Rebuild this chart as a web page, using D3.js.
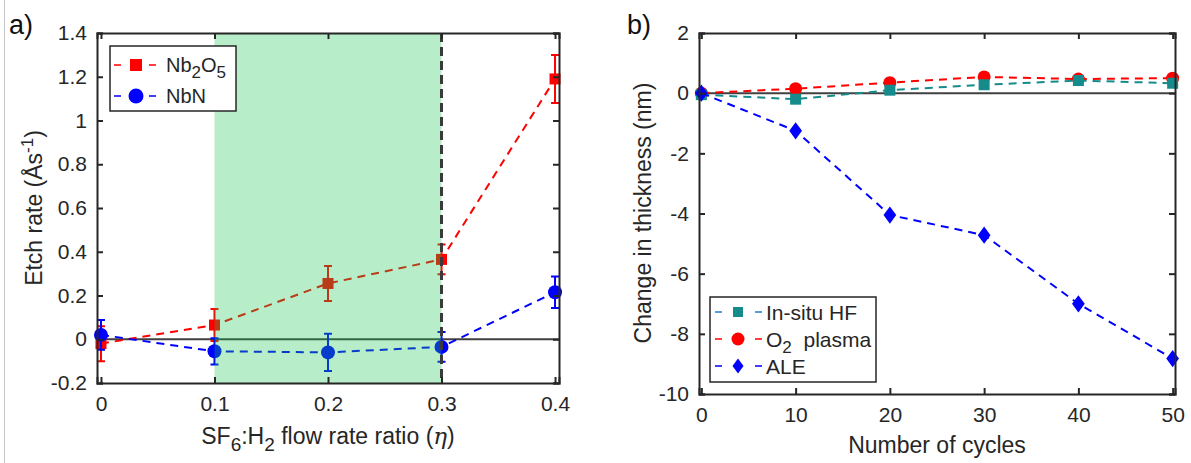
<!DOCTYPE html>
<html>
<head>
<meta charset="utf-8">
<script src="https://cdn.jsdelivr.net/npm/d3@7"></script>
<style>
  html, body { margin: 0; padding: 0; background: #fff; }
  svg { display: block; font-family: "Liberation Sans", Arial, sans-serif; }
</style>
</head>
<body>
<svg id="fig" width="1191" height="463"></svg>
<script>
// ---- Panel a: etch rate vs SF6:H2 flow rate ratio ----
const etaValues = [0, 0.1, 0.2, 0.3, 0.4];
const nb2o5Rate = [-0.02, 0.065, 0.255, 0.365, 1.19];
const nb2o5Err  = [0.08, 0.073, 0.08, 0.068, 0.11];
const nbnRate   = [0.02, -0.055, -0.06, -0.035, 0.215];
const nbnErr    = [0.068, 0.06, 0.085, 0.068, 0.072];
const windowRange = [0.1, 0.3];
const aXTicks = [0, 0.1, 0.2, 0.3, 0.4];
const aYTicks = [-0.2, 0, 0.2, 0.4, 0.6, 0.8, 1, 1.2, 1.4];

// ---- Panel b: thickness change vs number of cycles ----
const cycles     = [0, 10, 20, 30, 40, 50];
const insituHF   = [-0.05, -0.2, 0.1, 0.28, 0.42, 0.33];
const o2Plasma   = [0, 0.15, 0.35, 0.54, 0.47, 0.5];
const aleChange  = [0, -1.25, -4.05, -4.72, -7.0, -8.82];
const bXTicks = [0, 10, 20, 30, 40, 50];
const bYTicks = [-10, -8, -6, -4, -2, 0, 2];

const RED = "#ff0000", BLUE = "#0000ff", TEAL = "#168b8b", HFLEG = "#1f7fd0";
const AX = "#262626";
const svg = d3.select("#fig");

// thin frame line at the left edge
svg.append("line").attr("x1", 4.5).attr("x2", 4.5).attr("y1", 0).attr("y2", 463)
  .attr("stroke", "#c8c8c8").attr("stroke-width", 1);

const fmt = d => d === 0 ? "0" : String(+d.toFixed(1));

function frame(g, x, y, xt, yt) {
  const [x0, x1] = x.range(), [y0, y1] = y.range();
  const bottom = g.append("g").attr("transform", `translate(0,${y0})`)
    .call(d3.axisBottom(x).tickValues(xt).tickFormat(fmt).tickSize(-6).tickPadding(13));
  const left = g.append("g").attr("transform", `translate(${x0},0)`)
    .call(d3.axisLeft(y).tickValues(yt).tickFormat(fmt).tickSize(-6).tickPadding(10));
  const top = g.append("g").attr("transform", `translate(0,${y1})`)
    .call(d3.axisTop(x).tickValues(xt).tickFormat("").tickSize(-6));
  const right = g.append("g").attr("transform", `translate(${x1},0)`)
    .call(d3.axisRight(y).tickValues(yt).tickFormat("").tickSize(-6));
  [bottom, left, top, right].forEach(a => {
    a.selectAll("path").attr("stroke", AX).attr("stroke-width", 2);
    a.selectAll("line").attr("stroke", AX).attr("stroke-width", 2);
    a.selectAll("text").attr("fill", "#262626").style("font-size", "21px")
      .style("font-family", "Liberation Sans, Arial, sans-serif");
  });
}

function marker(g, type, cx, cy, size, color) {
  if (type === "square") {
    g.append("rect").attr("x", cx - size / 2).attr("y", cy - size / 2)
      .attr("width", size).attr("height", size).attr("fill", color);
  } else if (type === "circle") {
    g.append("circle").attr("cx", cx).attr("cy", cy).attr("r", size / 2).attr("fill", color);
  } else {
    const s = size / 2;
    g.append("path").attr("d", `M${cx},${cy - s * 1.15}L${cx + s * 0.85},${cy}L${cx},${cy + s * 1.15}L${cx - s * 0.85},${cy}Z`)
      .attr("fill", color);
  }
}

// ================= Panel a =================
{
  const x = d3.scaleLinear().domain([-0.0035, 0.4035]).range([97, 559]);
  const y = d3.scaleLinear().domain([-0.2, 1.4]).range([383, 33]);
  const g = svg.append("g");

  // zero line
  g.append("line").attr("x1", x.range()[0]).attr("x2", x.range()[1])
    .attr("y1", y(0)).attr("y2", y(0)).attr("stroke", "#404040").attr("stroke-width", 2);

  function series(vals, errs, color, type, size) {
    const pts = etaValues.map((e, i) => [x(e), y(vals[i])]);
    g.append("path").attr("d", d3.line()(pts)).attr("fill", "none")
      .attr("stroke", color).attr("stroke-width", 2).attr("stroke-dasharray", "8,6");
    etaValues.forEach((e, i) => {
      const cx = x(e), t = y(vals[i] + errs[i]), b = y(vals[i] - errs[i]);
      g.append("path").attr("d", `M${cx},${t}V${b}M${cx - 4},${t}H${cx + 4}M${cx - 4},${b}H${cx + 4}`)
        .attr("stroke", color).attr("stroke-width", 2).attr("fill", "none");
      marker(g, type, cx, y(vals[i]), size, color);
    });
  }
  series(nb2o5Rate, nb2o5Err, RED, "square", 11);
  series(nbnRate, nbnErr, BLUE, "circle", 14);

  // process window shading
  g.append("rect").attr("x", x(windowRange[0])).attr("y", y.range()[1])
    .attr("width", x(windowRange[1]) - x(windowRange[0]))
    .attr("height", y.range()[0] - y.range()[1])
    .attr("fill", "rgb(18,198,75)").attr("fill-opacity", 0.3);
  g.append("line").attr("x1", x(windowRange[1])).attr("x2", x(windowRange[1]))
    .attr("y1", y.range()[1]).attr("y2", y.range()[0])
    .attr("stroke", "#3a3a3a").attr("stroke-width", 3).attr("stroke-dasharray", "9,5");

  frame(g, x, y, aXTicks, aYTicks);

  // legend
  const lg = g.append("g");
  lg.append("rect").attr("x", 110).attr("y", 46).attr("width", 126).attr("height", 65)
    .attr("fill", "#fff").attr("stroke", AX).attr("stroke-width", 1.5);
  [[RED, "square", 12, 65], [BLUE, "circle", 15, 96]].forEach(([c, t, s, ly]) => {
    lg.append("line").attr("x1", 114).attr("x2", 156).attr("y1", ly).attr("y2", ly)
      .attr("stroke", c).attr("stroke-width", 1.5).attr("stroke-dasharray", "7,28");
    marker(lg, t, 136, ly, s, c);
  });
  const t1 = lg.append("text").attr("x", 166).attr("y", 72).style("font-size", "20px").attr("fill", "#262626");
  t1.append("tspan").text("Nb");
  t1.append("tspan").attr("dy", 6).style("font-size", "17px").text("2");
  t1.append("tspan").attr("dy", -6).text("O");
  t1.append("tspan").attr("dy", 6).style("font-size", "17px").text("5");
  lg.append("text").attr("x", 166).attr("y", 103).style("font-size", "20px").attr("fill", "#262626").text("NbN");

  // titles
  const xt = g.append("text").attr("x", 328).attr("y", 444).attr("text-anchor", "middle")
    .style("font-size", "23px").attr("fill", "#262626");
  xt.append("tspan").text("SF");
  xt.append("tspan").attr("dy", 7).style("font-size", "19px").text("6");
  xt.append("tspan").attr("dy", -7).text(":H");
  xt.append("tspan").attr("dy", 7).style("font-size", "19px").text("2");
  xt.append("tspan").attr("dy", -7).text(" flow rate ratio (");
  xt.append("tspan").style("font-family", "DejaVu Serif, serif").style("font-style", "italic").text("η");
  xt.append("tspan").text(")");

  const yt = g.append("text").attr("transform", "translate(42,208) rotate(-90)")
    .attr("text-anchor", "middle").style("font-size", "23px").attr("fill", "#262626");
  yt.append("tspan").text("Etch rate (Ås");
  yt.append("tspan").attr("dy", -9).style("font-size", "17px").text("-1");
  yt.append("tspan").attr("dy", 9).text(")");

  g.append("text").attr("x", 9).attr("y", 34).style("font-size", "27px").attr("fill", "#111").text("a)");
}

// ================= Panel b =================
{
  const x = d3.scaleLinear().domain([-0.25, 50.25]).range([699, 1175]);
  const y = d3.scaleLinear().domain([-10, 2]).range([394, 33]);
  const g = svg.append("g");

  g.append("line").attr("x1", x.range()[0]).attr("x2", x.range()[1])
    .attr("y1", y(0)).attr("y2", y(0)).attr("stroke", "#404040").attr("stroke-width", 2);

  function series(vals, color, type, size) {
    const pts = cycles.map((c, i) => [x(c), y(vals[i])]);
    g.append("path").attr("d", d3.line()(pts)).attr("fill", "none")
      .attr("stroke", color).attr("stroke-width", 2).attr("stroke-dasharray", "8,6");
    cycles.forEach((c, i) => marker(g, type, x(c), y(vals[i]), size, color));
  }
  series(o2Plasma, RED, "circle", 13);
  series(insituHF, TEAL, "square", 11);
  series(aleChange, BLUE, "diamond", 15);

  frame(g, x, y, bXTicks, bYTicks);

  // legend
  const lg = g.append("g");
  lg.append("rect").attr("x", 710).attr("y", 297).attr("width", 166).attr("height", 85)
    .attr("fill", "#fff").attr("stroke", AX).attr("stroke-width", 1.5);
  const items = [
    { line: HFLEG, mark: TEAL, type: "square", size: 10, y: 312 },
    { line: RED, mark: RED, type: "circle", size: 13, y: 339 },
    { line: BLUE, mark: BLUE, type: "diamond", size: 13, y: 366 }
  ];
  items.forEach(it => {
    lg.append("line").attr("x1", 715).attr("x2", 762).attr("y1", it.y).attr("y2", it.y)
      .attr("stroke", it.line).attr("stroke-width", 1.5).attr("stroke-dasharray", "7,33");
    marker(lg, it.type, 738, it.y, it.size, it.mark);
  });
  lg.append("text").attr("x", 766).attr("y", 320).style("font-size", "21px").attr("fill", "#262626").text("In-situ HF");
  const o2 = lg.append("text").attr("x", 766).attr("y", 347).style("font-size", "21px").attr("fill", "#262626");
  o2.append("tspan").text("O");
  o2.append("tspan").attr("dy", 6).style("font-size", "17px").text("2");
  o2.append("tspan").attr("dy", -6).style("white-space", "pre").text("  plasma");
  lg.append("text").attr("x", 766).attr("y", 374).style("font-size", "21px").attr("fill", "#262626").text("ALE");

  g.append("text").attr("x", 937).attr("y", 453).attr("text-anchor", "middle")
    .style("font-size", "23px").attr("fill", "#262626").text("Number of cycles");
  g.append("text").attr("transform", "translate(651,213) rotate(-90)").attr("text-anchor", "middle")
    .style("font-size", "23px").attr("fill", "#262626").text("Change in thickness (nm)");

  g.append("text").attr("x", 627).attr("y", 34).style("font-size", "27px").attr("fill", "#111").text("b)");
}
</script>
</body>
</html>
